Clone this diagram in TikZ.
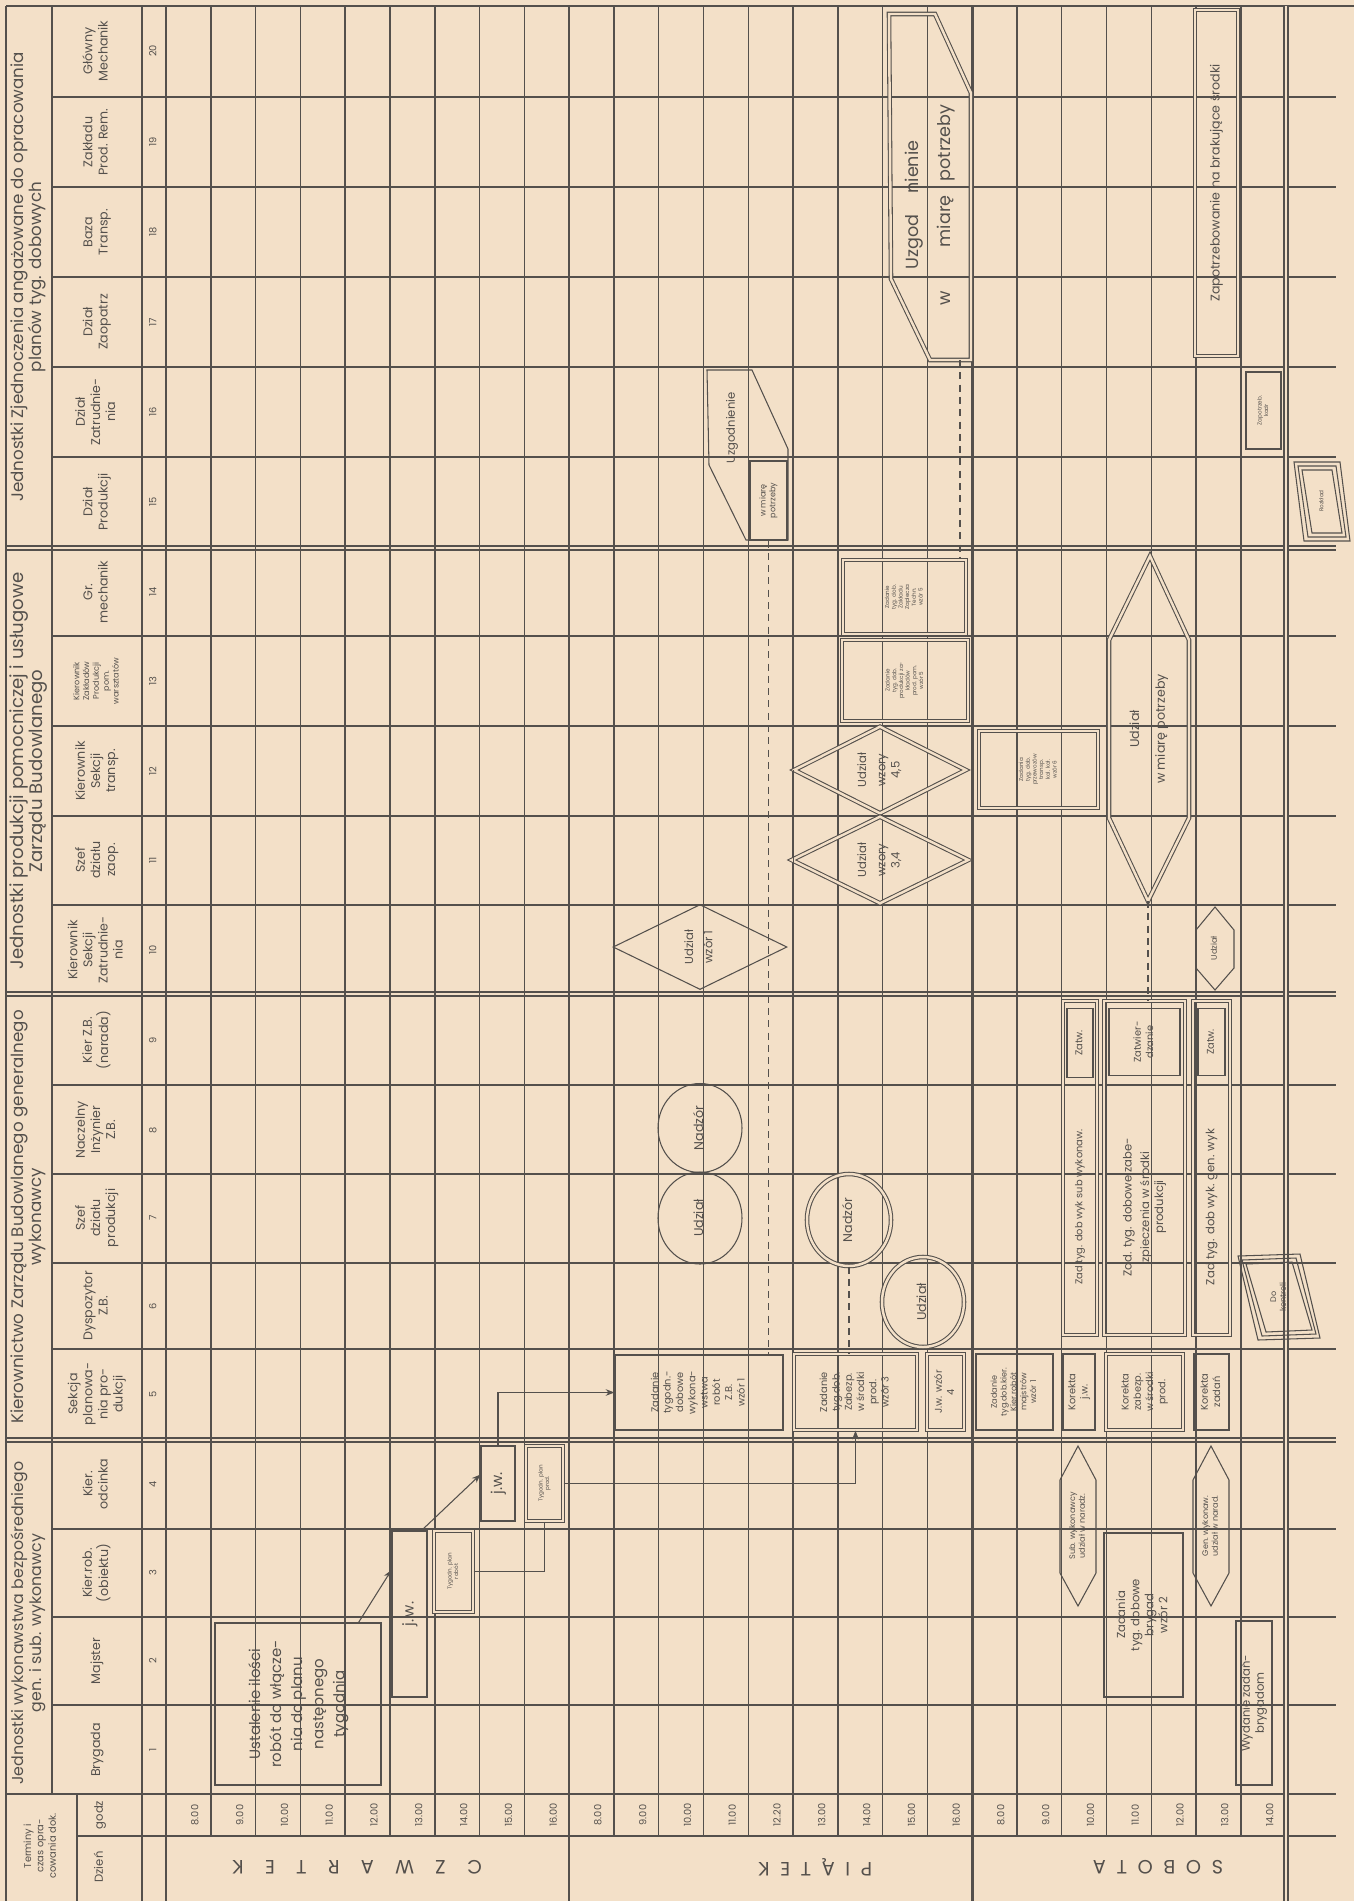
\documentclass[tikz,border=0pt]{standalone}
\usepackage{fontspec}
\setmainfont{Poppins}
\usetikzlibrary{arrows.meta,positioning,calc,shapes.geometric}
\definecolor{Paper}{RGB}{243,224,200}
\definecolor{Ink}{RGB}{84,80,76}
\newcommand{\vt}[1]{\rotatebox{90}{\begin{tabular}{@{}c@{}}#1\end{tabular}}}
\newcommand{\fs}[2]{\fontsize{#1}{#2}\selectfont}
\newcommand{\ls}{\hspace{0.55em}}
\newcommand{\lw}{\hspace{1.1em}}
\def\u{0.2mm}

\tikzset{
  grid/.style={draw=Ink,line width=0.8pt},
  sep/.style={grid,double=Paper,double distance=1.3pt},
  box/.style={draw=Ink,line width=0.6pt,inner sep=0pt,text=Ink,align=center},
  dbox/.style={box,double=Paper,double distance=1.4pt},
  lab/.style={inner sep=0pt,text=Ink},
  link/.style={draw=Ink,line width=0.6pt},
  hint/.style={draw=Ink,line width=0.6pt,dash pattern=on 4pt off 3pt},
  f3/.style={font=\fs{3.2}{3.8}},
  f5/.style={font=\fs{4.6}{5.6}},
  f6/.style={font=\fs{5.6}{7}},
  f7/.style={font=\fs{6.6}{8}},
  f8/.style={font=\fs{7.2}{8.6}},
  f9/.style={font=\fs{8.5}{12}},
}

\begin{document}
\begin{tikzpicture}[x=0.2mm,y=-0.2mm]
  \useasboundingbox[fill=Paper] (0,0) rectangle (1354,1901);

  % row lines
  \draw[grid] (6,6) -- (1354,6);
  \foreach \y in {97,187,277,367,457,636,726,816,905,1085,1174,1263,1349,1529,1617,1705}
    \draw[grid] (52,\y) -- (1336,\y);
  \foreach \y in {548,994,1440}
    \draw[sep] (6,\y) -- (1336,\y);
  \draw[grid] (6,1794) -- (1336,1794);
  \draw[grid] (77,1836) -- (1336,1836);

  % header columns
  \foreach \x/\a/\b in {6/6/1901,52/6/1794,77/1794/1901,142/6/1901,166/6/1901}
    \draw[grid] (\x,\a) -- (\x,\b);

  % hour columns
  \foreach \d in {166,569}
    \foreach \k in {1,...,8}
      \draw[grid] ({\d+44.8*\k},6) -- ({\d+44.8*\k},1836);
  \foreach \k in {1,...,6}
    \draw[grid] ({972+44.8*\k},6) -- ({972+44.8*\k},1836);
  \foreach \x in {569,972}
    \draw[grid,line width=1.7pt] (\x,6) -- (\x,1901);
  \draw[sep] (1286,6) -- (1286,1901);

  % hours
  \foreach \t [count=\i from 0] in {8.00,9.00,10.00,11.00,12.00,13.00,14.00,15.00,16.00}
    \node[lab,f6] (hc\i) at ({166+44.8*\i+30},1815) {\vt{\t}};
  \foreach \t [count=\i from 0] in {8.00,9.00,10.00,11.00,12.20,13.00,14.00,15.00,16.00}
    \node[lab,f6] (hp\i) at ({569+44.8*\i+30},1815) {\vt{\t}};
  \foreach \t [count=\i from 0] in {8.00,9.00,10.00,11.00,12.00,13.00,14.00}
    \node[lab,f6] (hs\i) at ({972+44.8*\i+30},1815) {\vt{\t}};

  % days
  \node[lab,font=\fs{11}{12}] (czw) at (357,1867) {\rotatebox{180}{C\lw Z\lw W\lw A\lw R\lw T\lw E\lw K}};
  \node[lab,font=\fs{11}{12}] (pia) at (815,1867) {\rotatebox{180}{P\ls I\ls Ą\ls T\ls E\ls K}};
  \node[lab,font=\fs{11}{12}] (sob) at (1158,1867) {\rotatebox{180}{S\ls O\ls B\ls O\ls T\ls A}};
  \node[lab,f6] (term) at (41,1846) {\vt{Terminy i\\czas opra-\\cowania dok.}};
  \node[lab,f7] (godz) at (100,1815) {\vt{godz}};
  \node[lab,f7] (dzien) at (100,1867) {\vt{Dzień}};

  % unit numbers and names
  \foreach \n/\y in {20/51,19/142,18/232,17/322,16/412,15/502,14/592,13/681,12/771,11/860,
                     10/950,9/1040,8/1130,7/1218,6/1306,5/1394,4/1484,3/1573,2/1661,1/1750}
    \node[lab,f6] (nr\n) at (154,\y) {\vt{\n}};
  \foreach \n/\y/\name in {20/51/{Główny\\Mechanik},19/142/{Zakładu\\Prod. Rem.},
      18/232/{Baza\\Transp.},17/322/{Dział\\Zaopatrz},16/412/{Dział\\Zatrudnie-\\nia},
      15/502/{Dział\\Produkcji},14/592/{Gr.\\mechanik},12/771/{Kierownik\\Sekcji\\transp.},
      11/860/{Szef\\działu\\zaop.},10/950/{Kierownik\\Sekcji\\Zatrudnie-\\nia},
      9/1040/{Kier Z.B.\\(narada)},8/1130/{Naczelny\\Inżynier\\Z.B.},
      7/1218/{Szef\\działu\\produkcji},6/1306/{Dyspozytor\\Z.B.},
      5/1394/{Sekcja\\planowa-\\nia pro-\\dukcji},4/1484/{Kier.\\odcinka},
      3/1573/{Kier.rob.\\(obiektu)},2/1661/{Majster},1/1750/{Brygada}}
    \node[lab,f8] (unit\n) at (97,\y) {\vt{\name}};
  \node[lab,f5] (unit13) at (97,681) {\vt{Kierownik\\Zakładów\\Produkcji\\pom.\\warsztatów}};

  % unit groups
  \node[lab,font=\fs{9.5}{10}] (grpA) at (29,277) {\vt{Jednostki Zjednoczenia angażowane do opracowania\\planów tyg. dobowych}};
  \node[lab,font=\fs{10.3}{10}] (grpB) at (29,771) {\vt{Jednostki produkcji pomocniczej i usługowe\\Zarządu Budowlanego}};
  \node[lab,font=\fs{9.5}{10}] (grpC) at (29,1217) {\vt{Kierownictwo Zarządu Budowlanego generalnego\\wykonawcy}};
  \node[lab,font=\fs{9}{10}] (grpD) at (29,1623) {\vt{Jednostki wykonawstwa bezpośredniego\\gen. i sub. wykonawcy}};

  % czwartek
  \node[box,f9,minimum width=166*\u,minimum height=162*\u] (ustal) at (298,1704)
    {\vt{Ustalenie ilości\\robót do włącze-\\nia do planu\\następnego\\tygodnia}};
  \node[box,f9,minimum width=35*\u,minimum height=166*\u] (jwa) at (409.5,1614) {\vt{j.\,w.}};
  \node[dbox,f3,minimum width=39*\u,minimum height=81*\u] (tpa) at (453.5,1571.5) {\vt{Tygodn. plan\\robót}};
  \node[box,f9,minimum width=34*\u,minimum height=75*\u] (jwb) at (498,1483.5) {\vt{j.w.}};
  \node[dbox,f3,minimum width=37*\u,minimum height=75*\u] (tpb) at (544.5,1483.5) {\vt{Tygodn. plan\\prod.}};

  \draw[link,-{Stealth[length=5pt]}] ($(ustal.north east)+(-23,0)$) -- ($(jwa.west)+(0,-44)$);
  \draw[link,-{Stealth[length=5pt]}] ($(jwa.north)+(12,0)$) -- ($(jwb.west)+(0,-9)$);
  \draw[link] (tpa.east) -| (tpb.south);

  % piatek
  \node[box,f6,minimum width=168*\u,minimum height=75*\u] (zad1) at (699,1392.5)
    {\vt{Zadanie\\tygodn.-\\dobowe\\wykona-\\wstwa\\robót\\Z.B.\\wzór 1}};
  \node[dbox,f6,minimum width=123*\u,minimum height=76*\u] (wz3) at (855.5,1392)
    {\vt{Zadanie\\tyg.dob.\\Zabezp.\\w środki\\prod.\\wzór 3}};
  \node[dbox,f6,minimum width=37*\u,minimum height=76*\u] (jw4) at (945.5,1392) {\vt{J.w. wzór\\4}};
  \draw[link,-{Stealth[length=5pt]}] (jwb.north) |- (zad1.west);
  \draw[link,-{Stealth[length=5pt]}] (tpb.east) -| (wz3.south);

  \node[box,ellipse,f8,minimum width=84*\u,minimum height=89*\u] (nad8) at (700,1128) {\vt{Nadzór}};
  \node[box,ellipse,f8,minimum width=84*\u,minimum height=92*\u] (udz7) at (700,1218) {\vt{Udział}};
  \node[dbox,ellipse,f8,minimum width=84*\u,minimum height=92*\u] (nad7) at (849,1220) {\vt{Nadzór}};
  \node[dbox,ellipse,f8,minimum width=82*\u,minimum height=90*\u] (udz6) at (923,1302) {\vt{Udział}};

  \node[box,diamond,f7,minimum width=174*\u,minimum height=85*\u] (dia10) at (700,947) {\vt{Udział\\[3pt]wzór 1}};
  \node[dbox,diamond,f7,minimum width=172*\u,minimum height=87*\u] (dia12) at (880,770) {\vt{Udział\\[3pt]wzory\\4,5}};
  \node[dbox,diamond,f7,minimum width=177*\u,minimum height=87*\u] (dia11) at (880,860) {\vt{Udział\\[3pt]wzory\\3,4}};

  \node[dbox,f3,minimum width=123*\u,minimum height=74*\u] (zt14) at (904.5,597)
    {\vt{Zadanie\\tyg. dob.\\Zakładu\\Zaplecza\\Techn.\\wzór 5}};
  \node[dbox,f3,minimum width=126*\u,minimum height=81*\u] (zt13) at (905,680.5)
    {\vt{Zadanie\\tyg. dob.\\produkcji za-\\kładów\\prod. pom.\\wzór 5}};
  \node[dbox,f3,minimum width=119*\u,minimum height=77*\u] (zt12) at (1038.5,769.5)
    {\vt{Zadania\\tyg. dob.\\przewozów\\transp.\\kol. koł.\\wzór 6}};

  % uzgodnienia
  \draw[link] (707,370) -- (752,370) -- (788,449) -- (788,540) -- (746,540) -- (709,465) -- cycle;
  \node[lab,f7] (uzg) at (732,428) {\vt{Uzgodnienie}};
  \node[box,f5,minimum width=37*\u,minimum height=79*\u] (wmp) at (768.5,500.5) {\vt{w miarę\\potrzeby}};
  \draw[link,double=Paper,double distance=1.4pt] (889,14) -- (935,14) -- (971,93) -- (971,360) -- (930,360) -- (891,279) -- cycle;
  \node[lab,font=\fs{10}{12}] (uzgb) at (930,205) {\vt{Uzgod\hspace{1.2em}nienie\\[6pt]w\hspace{2.5em}miarę\hspace{0.8em}potrzeby}};
  \coordinate (uzgbs) at (960,360);

  % sobota
  \node[dbox,f8,minimum width=43*\u,minimum height=346*\u] (zapo) at (1216.5,183) {\vt{Zapotrzebowanie na brakujące środki}};
  \node[box,f3,minimum width=35*\u,minimum height=77*\u] (kadr) at (1263.5,410.5) {\vt{Zapotrzeb.\\kadr}};
  \foreach \d in {0,4,8}
    \draw[link] ({1294+\d},{462+\d}) -- ({1340-\d},{462+\d}) -- ({1350-\d},{541-\d}) -- ({1304+\d},{541-\d}) -- cycle;
  \node[lab,f3] (rozk) at (1322,501) {\vt{Rozkład}};

  \draw[link,double=Paper,double distance=1.4pt] (1150,556) -- (1189,640) -- (1189,818) -- (1148,901) -- (1109,818) -- (1109,640) -- cycle;
  \node[lab,f8] (udzmp) at (1149,729) {\vt{Udział\\[6pt]w miarę potrzeby}};
  \draw[link] (1215,907) -- (1234,930) -- (1234,968) -- (1215,990) -- (1196,968) -- (1196,930) -- cycle;
  \node[lab,f5] (udzs) at (1215,948) {\vt{Udział}};

  \foreach \xa/\xb in {1063/1097,1104/1185,1193/1230}
    \draw[link,double=Paper,double distance=1.4pt] (\xa,1001) rectangle (\xb,1335);
  \node[box,f6,minimum width=26*\u,minimum height=69*\u] (zw1) at (1080,1043) {\vt{Zatw.}};
  \node[box,f6,minimum width=71*\u,minimum height=67*\u] (zw2) at (1144.5,1042) {\vt{Zatwier-\\dzanie}};
  \node[box,f6,minimum width=27*\u,minimum height=67*\u] (zw3) at (1211.5,1042) {\vt{Zatw.}};
  \node[lab,f6] (zs1) at (1080,1207) {\vt{Zad tyg. dob wyk sub wykonaw.}};
  \node[lab,f7] (zs2) at (1144.5,1207) {\vt{Zad. tyg. dobowe zabe-\\[2pt]zpieczenia w środki\\produkcji}};
  \node[lab,f7] (zs3) at (1211.5,1207) {\vt{Zad tyg. dob wyk. gen. wyk}};
  \foreach \d in {0,4,8}
    \draw[link] ({1238+\d},{1256+\d}) -- ({1300-\d},{1254+\d}) -- ({1320-\d},{1338-\d}) -- ({1258+\d},{1340-\d}) -- cycle;
  \node[lab,f5] (kontr) at (1279,1297) {\vt{Do\\kontroli}};

  \node[box,f5,minimum width=77*\u,minimum height=76*\u] (zk1) at (1014.5,1392) {\vt{Zadanie\\tyg.dob.kier.\\Kier.robót\\majstrów\\wzór 1}};
  \node[box,f6,minimum width=32*\u,minimum height=76*\u] (kor1) at (1079,1392) {\vt{Korekta\\j.w.}};
  \node[dbox,f6,minimum width=77*\u,minimum height=76*\u] (kor2) at (1144.5,1392) {\vt{Korekta\\zabezp.\\w środki\\prod.}};
  \node[box,f6,minimum width=35*\u,minimum height=76*\u] (kor3) at (1211.5,1392) {\vt{Korekta\\zadań}};

  \draw[link] (1078,1446) -- (1096,1480) -- (1096,1573) -- (1078,1606) -- (1060,1573) -- (1060,1480) -- cycle;
  \node[lab,f5] (nar1) at (1078,1526) {\vt{Sub. wykonawcy\\udział w naradz.}};
  \draw[link] (1211,1446) -- (1229,1480) -- (1229,1573) -- (1211,1606) -- (1193,1573) -- (1193,1480) -- cycle;
  \node[lab,f5] (nar2) at (1211,1526) {\vt{Gen. wykonaw.\\udział w narad.}};
  \node[box,f7,minimum width=79*\u,minimum height=164*\u] (zbr) at (1143.5,1615) {\vt{Zadania\\tyg. dobowe\\brygad\\wzór 2}};
  \node[box,f7,minimum width=36*\u,minimum height=164*\u] (wyd) at (1254,1703) {\vt{Wydanie zadań-\\brygadom}};

  % dashed hints
  \draw[hint] (wmp.south) -- (wmp.south |- zad1.north);
  \draw[hint] (dia12.west) -- (dia12.west |- wz3.north);
  \draw[hint] (nad7.south) -- (nad7.south |- wz3.north);
  \draw[hint] (uzgbs) -- (uzgbs |- zt14.north);
  \draw[hint] (1148,901) -- (1148,1001);
\end{tikzpicture}
\end{document}
